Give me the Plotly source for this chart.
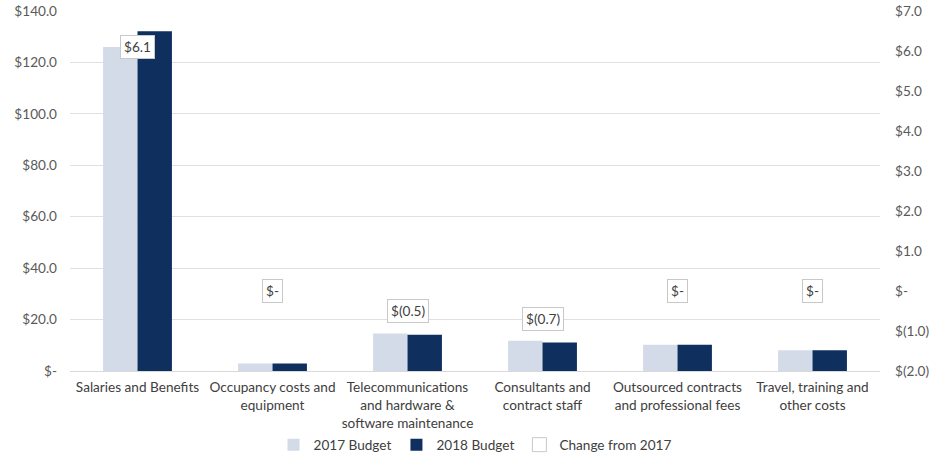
import plotly.graph_objects as go

# Budget by expense category ($ millions)
categories = [
    "Salaries and Benefits",
    "Occupancy costs and<br>equipment",
    "Telecommunications<br>and hardware &<br>software maintenance",
    "Consultants and<br>contract staff",
    "Outsourced contracts<br>and professional fees",
    "Travel, training and<br>other costs",
]
budget_2017 = [126.0, 2.9, 14.6, 11.8, 10.2, 8.1]
budget_2018 = [132.1, 2.9, 14.1, 11.1, 10.2, 8.1]
change_from_2017 = [6.1, 0.0, -0.5, -0.7, 0.0, 0.0]

left_ticks = [0, 20, 40, 60, 80, 100, 120, 140]
right_ticks = [-2, -1, 0, 1, 2, 3, 4, 5, 6, 7]

TEXT = "#595959"
FONT = "Lato, 'Open Sans', sans-serif"
SIZE = 13.6


def money(v):
    if abs(v) < 0.05:
        return "$-"
    if v < 0:
        return f"$({abs(v):.1f})"
    return f"${v:.1f}"


fig = go.Figure()
fig.add_trace(go.Bar(
    x=categories, y=budget_2017, name="2017 Budget",
    marker=dict(color="#d4dbe8", line=dict(width=0)),
))
fig.add_trace(go.Bar(
    x=categories, y=budget_2018, name="2018 Budget",
    marker=dict(color="#0f2f5f", line=dict(width=0)),
))
# Change series on the secondary axis; its value boxes are annotations
fig.add_trace(go.Scatter(
    x=categories, y=change_from_2017, name="Change from 2017",
    yaxis="y2", mode="markers",
    marker=dict(symbol="square", size=14, color="white",
                line=dict(color="#c8c8c8", width=1)),
    hoverinfo="skip",
))

for cat, val in zip(categories, change_from_2017):
    fig.add_annotation(
        x=cat, y=val, xref="x", yref="y2", text=money(val),
        showarrow=False, bgcolor="white", bordercolor="#c8c8c8",
        borderwidth=1, borderpad=3,
        font=dict(family=FONT, size=SIZE, color="#404040"),
    )

fig.update_layout(
    width=943, height=458,
    margin=dict(l=70, r=63, t=11, b=87, autoexpand=False),
    paper_bgcolor="white", plot_bgcolor="white",
    barmode="group", bargap=0.49, bargroupgap=0.0,
    font=dict(family=FONT, size=SIZE, color=TEXT),
    showlegend=True,
    legend=dict(orientation="h", x=0.5, xanchor="center",
                y=-0.205, yanchor="middle",
                font=dict(family=FONT, size=SIZE, color="#404040"),
                itemwidth=30, traceorder="normal"),
    xaxis=dict(
        showgrid=False, showline=True, linecolor="#d9d9d9", linewidth=1,
        ticks="", tickfont=dict(family=FONT, size=SIZE, color="#404040"),
        ticklabelstandoff=4, automargin=False,
    ),
    yaxis=dict(
        range=[0, 140], tickvals=left_ticks,
        ticktext=[money(v) for v in left_ticks],
        showgrid=True, gridcolor="#e0e0e0", gridwidth=1,
        zeroline=False, ticks="", ticklabelstandoff=12, automargin=False,
        tickfont=dict(family=FONT, size=SIZE, color=TEXT),
    ),
    yaxis2=dict(
        range=[-2, 7], tickvals=right_ticks,
        ticktext=[money(v) for v in right_ticks],
        overlaying="y", side="right", showgrid=False, zeroline=False,
        ticks="", ticklabelstandoff=14, automargin=False,
        tickfont=dict(family=FONT, size=SIZE, color=TEXT),
    ),
)

fig.write_html("out.html")
